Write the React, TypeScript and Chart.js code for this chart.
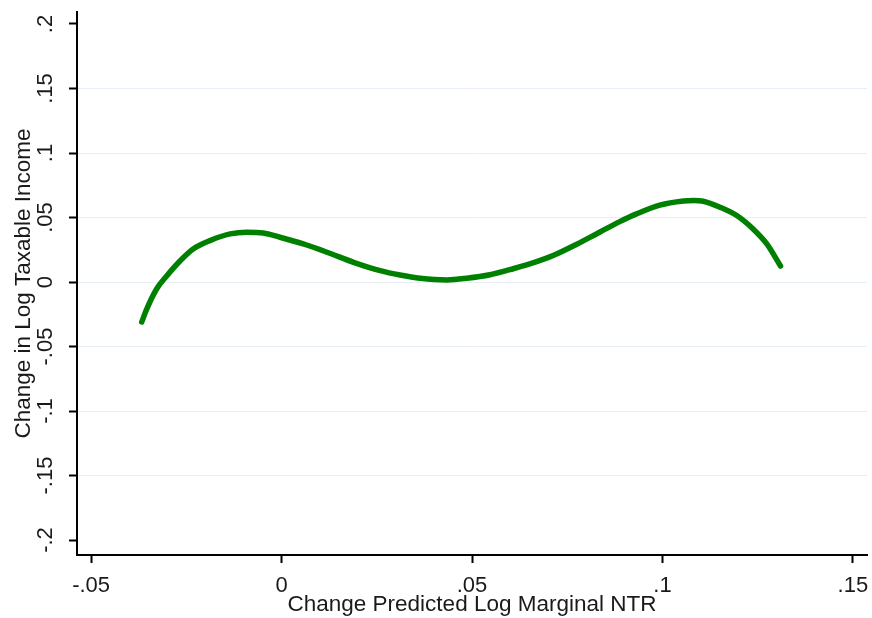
import React, { useEffect, useRef } from "react";
import { Chart, registerables } from "chart.js";

Chart.register(...registerables);

const xValues = [
  -0.0367, -0.0354, -0.0328, -0.0301, -0.0266, -0.0232, -0.0188, -0.0135, -0.0091, -0.0048,
  -0.0004, 0.0057, 0.0119, 0.0189, 0.0259, 0.0311, 0.0364, 0.0434, 0.0486, 0.0547,
  0.0608, 0.067, 0.0713, 0.0775, 0.0836, 0.0888, 0.0932, 0.0993, 0.1055, 0.1082,
  0.1107, 0.1151, 0.1195, 0.1238, 0.1274, 0.131,
];
const yValues = [
  -0.031, -0.021, -0.0054, 0.0049, 0.0165, 0.0256, 0.0321, 0.0373, 0.0386, 0.038,
  0.0347, 0.0295, 0.0231, 0.0153, 0.0088, 0.0054, 0.0029, 0.0016, 0.0029, 0.0056,
  0.0103, 0.0158, 0.0205, 0.0293, 0.0388, 0.0468, 0.0528, 0.0596, 0.0628, 0.0632,
  0.0626, 0.058, 0.0515, 0.0411, 0.0295, 0.0124,
];

const xTicks = [-0.05, 0, 0.05, 0.1, 0.15];
const xTickLabels = ["-.05", "0", ".05", ".1", ".15"];
const yTicks = [-0.2, -0.15, -0.1, -0.05, 0, 0.05, 0.1, 0.15, 0.2];
const yTickLabels = ["-.2", "-.15", "-.1", "-.05", "0", ".05", ".1", ".15", ".2"];

const xTitle = "Change Predicted Log Marginal NTR";
const yTitle = "Change in Log Taxable Income";

const FONT = "'Liberation Sans', Arial, sans-serif";
const TEXT = "#1a1a1a";
const GRID = "rgb(232,238,245)";

export default function App() {
  const ref = useRef<HTMLCanvasElement>(null);

  useEffect(() => {
    if (!ref.current) return;
    const chart = new Chart(ref.current, {
      type: "scatter",
      data: {
        datasets: [
          {
            data: xValues.map((x, i) => ({ x, y: yValues[i] })),
            showLine: true,
            borderColor: "#008000",
            backgroundColor: "#008000",
            borderWidth: 5.5,
            pointRadius: 0,
            cubicInterpolationMode: "monotone",
            borderCapStyle: "round",
            borderJoinStyle: "round",
          } as any,
        ],
      },
      options: {
        responsive: false,
        animation: false,
        layout: { padding: { top: 12, right: 5, left: 0, bottom: 0 } },
        plugins: { legend: { display: false }, tooltip: { enabled: false } },
        scales: {
          x: {
            type: "linear",
            min: -0.0537,
            max: 0.1537,
            afterBuildTicks: (s: any) => {
              s.ticks = xTicks.map((v) => ({ value: v }));
            },
            afterFit: (s: any) => {
              s.height = 63;
              s.paddingLeft = 0;
              s.paddingRight = 0;
            },
            grid: {
              drawOnChartArea: false,
              drawTicks: true,
              tickLength: 8,
              tickWidth: 2,
              tickColor: "#000",
            },
            border: { display: true, color: "#000", width: 2 },
            ticks: {
              padding: 10,
              color: TEXT,
              font: { family: FONT, size: 22 },
              maxRotation: 0,
              minRotation: 0,
              callback: (_v: any, i: number) => xTickLabels[i],
            },
            title: {
              display: true,
              text: xTitle,
              color: TEXT,
              font: { family: FONT, size: 22.5 },
              padding: { top: 0, bottom: 0 },
            },
          },
          y: {
            type: "linear",
            min: -0.2116,
            max: 0.2093,
            afterBuildTicks: (s: any) => {
              s.ticks = yTicks.map((v) => ({ value: v }));
            },
            afterFit: (s: any) => {
              s.width = 77;
              s.paddingTop = 0;
              s.paddingBottom = 0;
            },
            grid: {
              color: (c: any) =>
                c.tick && Math.abs(Math.abs(c.tick.value) - 0.2) < 1e-9 ? "rgba(0,0,0,0)" : GRID,
              lineWidth: 1,
              drawTicks: true,
              tickLength: 8,
              tickWidth: 2,
              tickColor: "#000",
            },
            border: { display: true, color: "#000", width: 2 },
            ticks: {
              padding: 4,
              crossAlign: "center",
              minRotation: 90,
              maxRotation: 90,
              color: TEXT,
              font: { family: FONT, size: 22 },
              callback: (_v: any, i: number) => yTickLabels[i],
            },
            title: {
              display: true,
              text: yTitle,
              color: TEXT,
              font: { family: FONT, size: 22.5 },
              padding: { top: 10, bottom: 0 },
            },
          },
        },
      } as any,
    });
    return () => chart.destroy();
  }, []);

  return (
    <div style={{ position: "absolute", left: 0, top: 0, width: 872, height: 618, background: "#fff" }}>
      <canvas ref={ref} width={872} height={618} />
    </div>
  );
}
